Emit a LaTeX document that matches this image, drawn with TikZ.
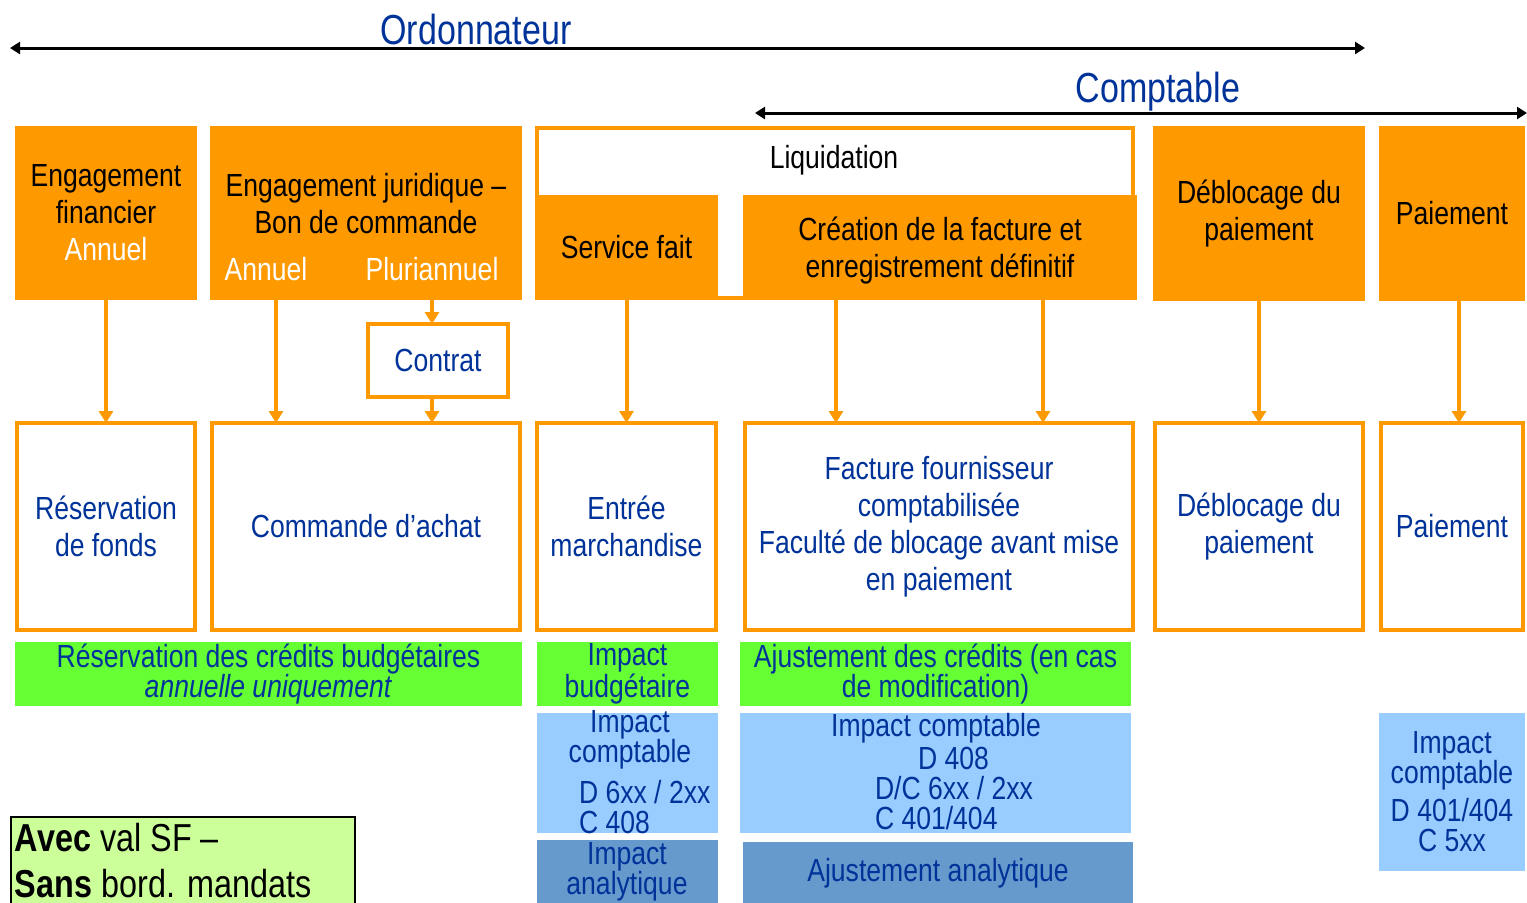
\documentclass[tikz,border=0pt]{standalone}
\usepackage{fontspec}
\setmainfont[FakeStretch=0.83]{Liberation Sans}
\newfontfamily\titlefont[FakeStretch=0.81]{Liberation Sans}
\usetikzlibrary{arrows.meta}
\definecolor{orng}{RGB}{255,153,0}
\definecolor{txtblue}{RGB}{0,51,153}
\definecolor{budgreen}{RGB}{102,255,51}
\definecolor{compblue}{RGB}{153,204,255}
\definecolor{anablue}{RGB}{102,153,204}
\definecolor{legendgreen}{RGB}{204,255,153}

\begin{document}
\begin{tikzpicture}[x=0.5pt,y=-0.5pt]
    \tikzstyle{every node}+=[inner sep=0pt, outer sep=0pt, align=center, font=\fontsize{16}{18.5}\selectfont]
    \tikzstyle{phase}=[fill=orng, text=black]
    \tikzstyle{result}=[draw=orng, line width=2pt, fill=white, text=txtblue]
    \tikzstyle{budget}=[fill=budgreen, text=txtblue, font=\fontsize{16}{15}\selectfont]
    \tikzstyle{compta}=[fill=compblue, text=txtblue, font=\fontsize{16}{15}\selectfont]
    \tikzstyle{analy}=[fill=anablue, text=txtblue, font=\fontsize{16}{15}\selectfont]
    \tikzstyle{flow}=[orng, line width=2pt, -{Triangle[width=7pt,length=6pt]}]
    \tikzstyle{actor}=[black, line width=1.5pt, {Triangle[width=6pt,length=5pt]}-{Triangle[width=6pt,length=5pt]}]
    \useasboundingbox (0,0) rectangle (1527,902);
    % actors
    \coordinate (ordL) at (10,48);
    \coordinate (ordR) at (1365,48);
    \draw [actor] (ordL) -- (ordR);
    \node [text=txtblue, font=\titlefont\fontsize{21}{21}\selectfont] (ord) at (476,29) {Ordonnateur};
    \coordinate (comL) at (755,113);
    \coordinate (comR) at (1527,113);
    \draw [actor] (comL) -- (comR);
    \node [text=txtblue, font=\titlefont\fontsize{21}{21}\selectfont] (com) at (1158,92) {Comptable};
    % top row
    \node [phase, minimum width=91pt, minimum height=87pt] (ef) at (106,213) {Engagement\\financier\\\textcolor{white}{Annuel}};
    \node [phase, minimum width=156pt, minimum height=87pt] (ej) at (366,213) {};
    \node [text=black] (ejtxt) at (366,204) {Engagement juridique –\\Bon de commande};
    \node [text=white] (ejann) at (266,269) {Annuel};
    \node [text=white] (ejplu) at (432,269) {Pluriannuel};
    \node [draw=orng, line width=2pt, fill=white, minimum width=298pt, minimum height=85pt] (liq) at (835,213) {};
    \node [text=black] (liqtxt) at (834,160) {Liquidation};
    \node [phase, minimum width=91.5pt, minimum height=52.5pt] (sf) at (626.5,247.5) {Service fait};
    \node [phase, minimum width=197pt, minimum height=52.5pt] (crea) at (940,247.5) {};
    \node [text=black] (creatxt) at (940,251) {Création de la facture et\\enregistrement définitif};
    \node [phase, minimum width=106pt, minimum height=87.5pt] (db) at (1259,213.5) {Déblocage du\\paiement};
    \node [phase, minimum width=73pt, minimum height=87.5pt] (pa) at (1452,213.5) {Paiement};
    \node [result, minimum width=70pt, minimum height=36.5pt] (ct) at (438,360.5) {Contrat};
    % bottom row
    \node [result, minimum width=89pt, minimum height=103.5pt] (rf) at (106,526.5) {Réservation\\de fonds};
    \node [result, minimum width=154pt, minimum height=103.5pt] (ca) at (366,526.5) {Commande d’achat};
    \node [result, minimum width=89.5pt, minimum height=103.5pt] (em) at (626.5,526.5) {Entrée\\marchandise};
    \node [result, minimum width=194pt, minimum height=103.5pt] (ff) at (939,526.5) {Facture fournisseur\\comptabilisée\\Faculté de blocage avant mise\\en paiement};
    \node [result, minimum width=104pt, minimum height=103.5pt] (dp) at (1259,526.5) {Déblocage du\\paiement};
    \node [result, minimum width=71pt, minimum height=103.5pt] (pm) at (1452,526.5) {Paiement};
    % flows
    \draw [flow] (ef.south) -- (rf.north);
    \draw [flow] (276,0 |- ej.south) -- (276,0 |- ca.north);
    \draw [flow] (432,0 |- ej.south) -- (432,0 |- ct.north);
    \draw [flow] (432,0 |- ct.south) -- (432,0 |- ca.north);
    \draw [flow] (sf.south) -- (em.north);
    \draw [flow] (836,0 |- crea.south) -- (836,0 |- ff.north);
    \draw [flow] (1043,0 |- crea.south) -- (1043,0 |- ff.north);
    \draw [flow] (db.south) -- (dp.north);
    \draw [flow] (1459,0 |- pa.south) -- (1459,0 |- pm.north);
    % impacts
    \node [budget, minimum width=253.5pt, minimum height=32pt] (g1) at (268.5,674) {Réservation des crédits budgétaires\\\textit{annuelle uniquement}};
    \node [budget, minimum width=90.5pt, minimum height=32pt] (g2) at (627.5,674) {Impact\\budgétaire};
    \node [budget, minimum width=195.5pt, minimum height=32pt] (g3) at (935.5,674) {Ajustement des crédits (en cas\\de modification)};
    \node [compta, minimum width=90.5pt, minimum height=60pt] (b1) at (627.5,773) {};
    \node [text=txtblue, font=\fontsize{16}{15}\selectfont] (b1a) at (630,740) {Impact\\comptable};
    \node [text=txtblue, font=\fontsize{16}{15}\selectfont, anchor=west, align=left] (b1b) at (579,807) {D 6xx / 2xx\\C 408};
    \node [compta, minimum width=195.5pt, minimum height=60pt] (b2) at (935.5,773) {};
    \node [text=txtblue, font=\fontsize{16}{15}\selectfont] (b2a) at (936,728) {Impact comptable};
    \node [text=txtblue, font=\fontsize{16}{15}\selectfont, anchor=west] (b2b) at (918,758) {D 408};
    \node [text=txtblue, font=\fontsize{16}{15}\selectfont, anchor=west, align=left] (b2c) at (875,803) {D/C 6xx / 2xx\\C 401/404};
    \node [compta, minimum width=73pt, minimum height=79pt] (b3) at (1452,792) {Impact\\comptable\\[4pt]D 401/404\\C 5xx};
    \node [analy, minimum width=90.5pt, minimum height=35pt] (d1) at (627.5,875) {};
    \node [text=txtblue, font=\fontsize{16}{15}\selectfont] (d1a) at (627,872) {Impact\\analytique};
    \node [analy, minimum width=195pt, minimum height=34pt] (d2) at (938,876) {};
    \node [text=txtblue] (d2a) at (938,873) {Ajustement analytique};
    % legend
    \node [draw=black, line width=1pt, fill=legendgreen, minimum width=172pt, minimum height=46pt] (leg) at (183,863) {};
    \node [text=black, anchor=west, align=left, font=\fontsize{19.5}{23}\selectfont] (legtxt) at (15,861) {\textbf{Avec} val SF –\\\textbf{Sans} bord. mandats};
\end{tikzpicture}
\end{document}
